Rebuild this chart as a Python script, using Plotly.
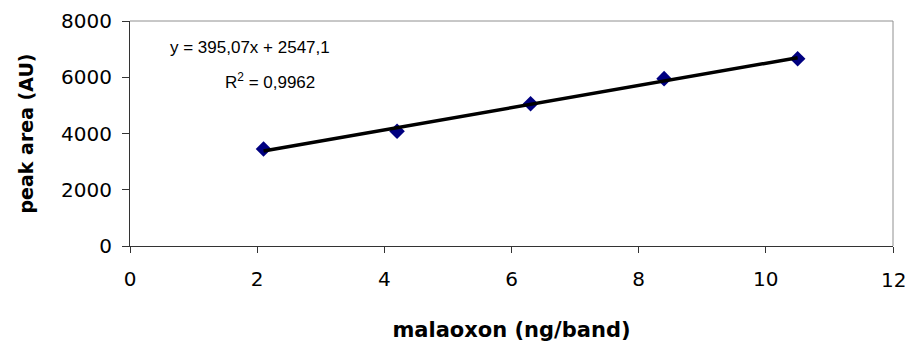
import plotly.graph_objects as go

# data
conc = [2.1, 4.2, 6.3, 8.4, 10.5]          # malaoxon (ng/band)
peak_area = [3450, 4080, 5060, 5950, 6660]  # peak area (AU)
slope = 395.07
intercept = 2547.1
r2_label = "0,9962"
x_ticks = [0, 2, 4, 6, 8, 10, 12]
y_ticks = [0, 2000, 4000, 6000, 8000]

trend_x = [min(conc), max(conc)]
trend_y = [slope * v + intercept for v in trend_x]

FONT = "Liberation Sans, Arial, sans-serif"
WIDE = "DejaVu Sans, Liberation Sans, Arial, sans-serif"

fig = go.Figure()
fig.add_trace(go.Scatter(
    x=conc, y=peak_area, mode="markers",
    marker=dict(symbol="diamond", size=12, color="#000080",
                line=dict(width=0)),
    showlegend=False, cliponaxis=False))
fig.add_trace(go.Scatter(
    x=trend_x, y=trend_y, mode="lines",
    line=dict(color="black", width=3.5),
    showlegend=False))

fig.add_annotation(x=0.6, y=7074, xref="x", yref="y", xanchor="left",
                   yanchor="middle", showarrow=False,
                   text="y = 395,07x + 2547,1",
                   font=dict(family=FONT, size=17, color="black"))
fig.add_annotation(x=1.46, y=5863, xref="x", yref="y", xanchor="left",
                   yanchor="middle", showarrow=False,
                   text="R<sup>2</sup> = " + r2_label,
                   font=dict(family=FONT, size=17, color="black"))

# last x tick label (partly cut off by the page edge, as in the original)
fig.add_annotation(x=x_ticks[-1], y=0, xref="x", yref="y domain",
                   xanchor="center", yanchor="middle", yshift=-34,
                   showarrow=False, text=str(x_ticks[-1]),
                   font=dict(family=WIDE, size=20, color="black"))

# gray top & right border
fig.add_shape(type="line", xref="x domain", yref="y domain",
              x0=0, x1=1, y0=1, y1=1, line=dict(color="#909090", width=1))
fig.add_shape(type="line", xref="x domain", yref="y domain",
              x0=1, x1=1, y0=0, y1=1, line=dict(color="#909090", width=1))

fig.update_layout(
    width=905, height=343,
    margin=dict(l=130, r=12, t=21, b=97, autoexpand=False),
    paper_bgcolor="white", plot_bgcolor="white",
    font=dict(family=WIDE, size=20, color="black"),
)
fig.update_xaxes(
    range=[0, 12], tickvals=x_ticks,
    ticktext=[str(v) if v != x_ticks[-1] else "" for v in x_ticks],
    showgrid=False, zeroline=False, automargin=False,
    showline=True, linecolor="#333333", linewidth=1,
    ticks="outside", ticklen=6, tickcolor="#333333",
    ticklabelstandoff=9,
    tickfont=dict(family=WIDE, size=20, color="black"),
    title=dict(text="<b>malaoxon (ng/band)</b>",
               font=dict(family=WIDE, size=21, color="black"), standoff=32),
)
fig.update_yaxes(
    range=[0, 8000], tickvals=y_ticks, ticktext=[str(v) for v in y_ticks],
    showgrid=False, zeroline=False, automargin=False,
    showline=True, linecolor="#333333", linewidth=1,
    ticks="outside", ticklen=7, tickcolor="#333333",
    ticklabelstandoff=6,
    tickfont=dict(family=WIDE, size=20, color="black"),
    title=dict(text="<b>peak area (AU)</b>",
               font=dict(family=WIDE, size=19, color="black"), standoff=22),
)

fig.write_html("out.html")
